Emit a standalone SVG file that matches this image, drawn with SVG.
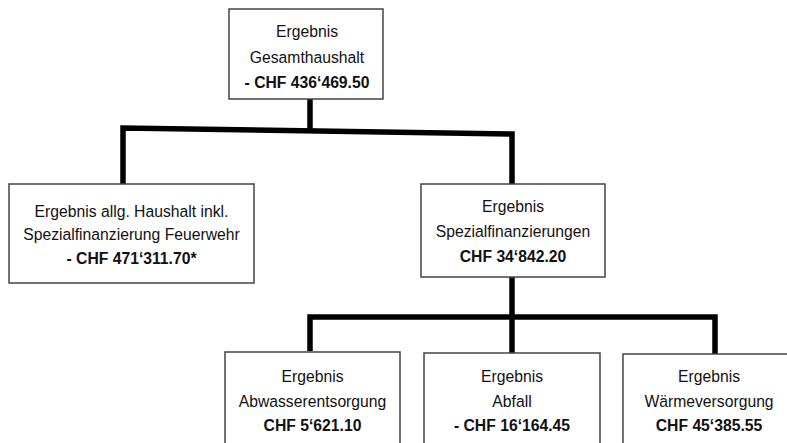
<svg xmlns="http://www.w3.org/2000/svg" width="787" height="443" viewBox="0 0 787 443">
<style>
.box{fill:#fff;stroke:#444;stroke-width:1.5}
text{font-family:"Liberation Sans",Arial,sans-serif;font-size:17px;fill:#111;text-anchor:middle}
.b{font-weight:bold}
.con{fill:none;stroke:#000;stroke-width:5.5;stroke-linejoin:miter;stroke-linecap:butt}
</style>
<rect width="787" height="443" fill="#fff"/>
<g id="connectors">
<path class="con" d="M310,99 L310,131"/>
<path class="con" d="M123,184 L123,128 L512,134 L512,185"/>
<path class="con" d="M512,277 L512,353"/>
<path class="con" d="M310,351 L310,317 L715,317 L715,354"/>
</g>
<g id="gesamt">
<rect class="box" x="229" y="9" width="154" height="90"/>
<text transform="translate(307,37) scale(0.925,1)">Ergebnis</text>
<text transform="translate(307,63) scale(0.925,1)">Gesamthaushalt</text>
<text class="b" transform="translate(307,88) scale(0.925,1)">- CHF 436‘469.50</text>
</g>
<g id="allg">
<rect class="box" x="9" y="184" width="245" height="99"/>
<text transform="translate(131.5,216.5) scale(0.925,1)">Ergebnis allg. Haushalt inkl.</text>
<text transform="translate(131.5,240) scale(0.925,1)">Spezialfinanzierung Feuerwehr</text>
<text class="b" transform="translate(131.5,264) scale(0.925,1)">- CHF 471‘311.70*</text>
</g>
<g id="spezial">
<rect class="box" x="421" y="184" width="184" height="93"/>
<text transform="translate(513,212) scale(0.925,1)">Ergebnis</text>
<text transform="translate(513,237) scale(0.925,1)">Spezialfinanzierungen</text>
<text class="b" transform="translate(513,262) scale(0.925,1)">CHF 34‘842.20</text>
</g>
<g id="abwasser">
<rect class="box" x="225" y="352" width="175" height="120"/>
<text transform="translate(312.5,382) scale(0.925,1)">Ergebnis</text>
<text transform="translate(312.5,406.5) scale(0.925,1)">Abwasserentsorgung</text>
<text class="b" transform="translate(312.5,431) scale(0.925,1)">CHF 5‘621.10</text>
</g>
<g id="abfall">
<rect class="box" x="424" y="353" width="176" height="120"/>
<text transform="translate(512,382) scale(0.925,1)">Ergebnis</text>
<text transform="translate(512,406.5) scale(0.925,1)">Abfall</text>
<text class="b" transform="translate(512,431) scale(0.925,1)">- CHF 16‘164.45</text>
</g>
<g id="waerme">
<rect class="box" x="623" y="354" width="175" height="120"/>
<text transform="translate(709,382) scale(0.925,1)">Ergebnis</text>
<text transform="translate(709,406.5) scale(0.925,1)">Wärmeversorgung</text>
<text class="b" transform="translate(709,431) scale(0.925,1)">CHF 45‘385.55</text>
</g>
</svg>
